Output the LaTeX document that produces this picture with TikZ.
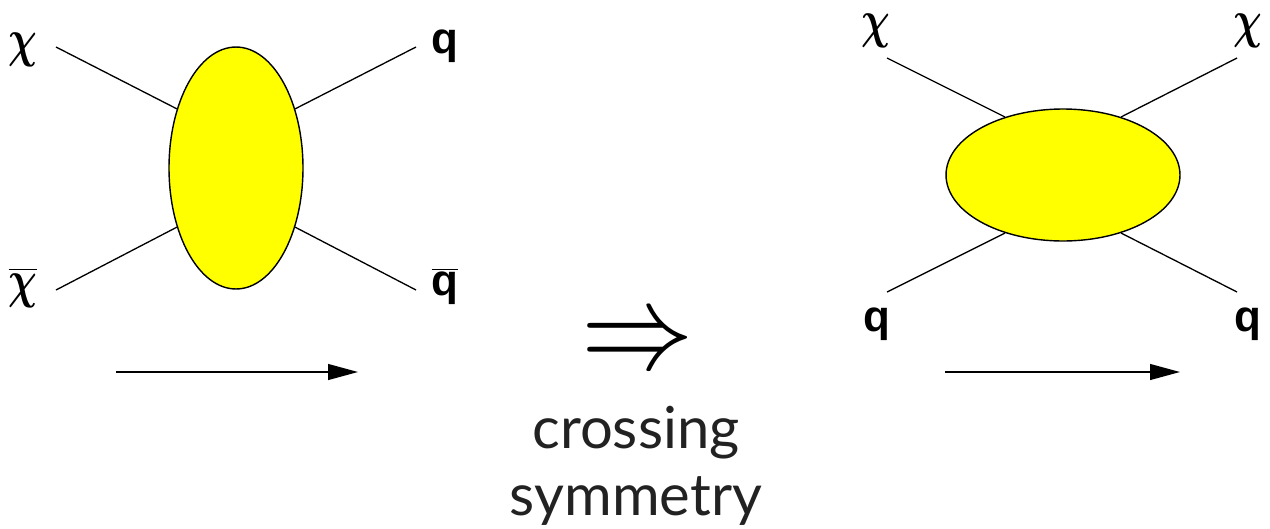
\documentclass[tikz,border=0pt]{standalone}
\usepackage{fontspec}
\usepackage{xcolor}
\usepackage{tikz}
\usetikzlibrary{shapes.geometric,arrows.meta,positioning}
\newfontfamily\partfont{Liberation Sans}
\newfontfamily\captfont{Lato}
\definecolor{blobcol}{HTML}{FFFF00}
\definecolor{captcol}{HTML}{222222}
\newcommand{\qL}{{\partfont\bfseries q}}
\newcommand{\barred}[1]{$\overline{\hbox{#1}}$}

\begin{document}
\begin{tikzpicture}[x=0.02cm,y=-0.02cm,
  blob/.style={ellipse,draw,line width=0.8pt,fill=blobcol,inner sep=0pt},
  leg/.style={line width=0.75pt},
  lbl/.style={inner sep=0pt,anchor=base,font=\fontsize{25}{25}\selectfont},
  chilbl/.style={inner sep=0pt,anchor=base,xscale=1.1,yscale=1.45,font=\fontsize{20}{20}\selectfont\boldmath},
  flow/.style={-{Triangle[length=17pt,width=9pt]},line width=0.9pt}]
  \useasboundingbox (0,0) rectangle (1270,528);

  % annihilation picture
  \node[blob,minimum width=2.68cm,minimum height=4.84cm] (blobA) at (236,168) {};
  \coordinate (inA1) at (56,47);
  \coordinate (inA2) at (56,290);
  \coordinate (outA1) at (416,47);
  \coordinate (outA2) at (416,290);
  \draw[leg] (inA1) -- (blobA.135);
  \draw[leg] (inA2) -- (blobA.225);
  \draw[leg] (blobA.45) -- (outA1);
  \draw[leg] (blobA.315) -- (outA2);
  \node[chilbl] (chiA) at (23,56) {$\chi$};
  \node[chilbl] (chibarA) at (23,297) {$\overline{\chi}$};
  \node[lbl] (qA) at (445,53) {\qL};
  \node[lbl] (qbarA) at (445,295) {\barred{\qL}};
  \coordinate (tailA) at (116,372);
  \coordinate (headA) at (358,372);
  \draw[flow] (tailA) -- (headA);

  % crossing
  \node[xscale=6.4,yscale=7,inner sep=0pt] (cross) at (638,346) {$\Rightarrow$};
  \node[align=center,inner sep=0pt,text=captcol,font=\captfont\fontsize{33}{38}\selectfont] (crosstxt) at (636,466) {crossing\\symmetry};

  % scattering picture
  \node[blob,minimum width=4.68cm,minimum height=2.64cm] (blobB) at (1063,175) {};
  \coordinate (inB1) at (887,58);
  \coordinate (inB2) at (887,292);
  \coordinate (outB1) at (1237,58);
  \coordinate (outB2) at (1237,292);
  \draw[leg] (inB1) -- (blobB.135);
  \draw[leg] (inB2) -- (blobB.225);
  \draw[leg] (blobB.45) -- (outB1);
  \draw[leg] (blobB.315) -- (outB2);
  \node[chilbl] (chiB) at (876,37) {$\chi$};
  \node[chilbl] (chiC) at (1248,37) {$\chi$};
  \node[lbl] (qB) at (877,331) {\qL};
  \node[lbl] (qC) at (1248,331) {\qL};
  \coordinate (tailB) at (945,372);
  \coordinate (headB) at (1180,372);
  \draw[flow] (tailB) -- (headB);
\end{tikzpicture}
\end{document}
